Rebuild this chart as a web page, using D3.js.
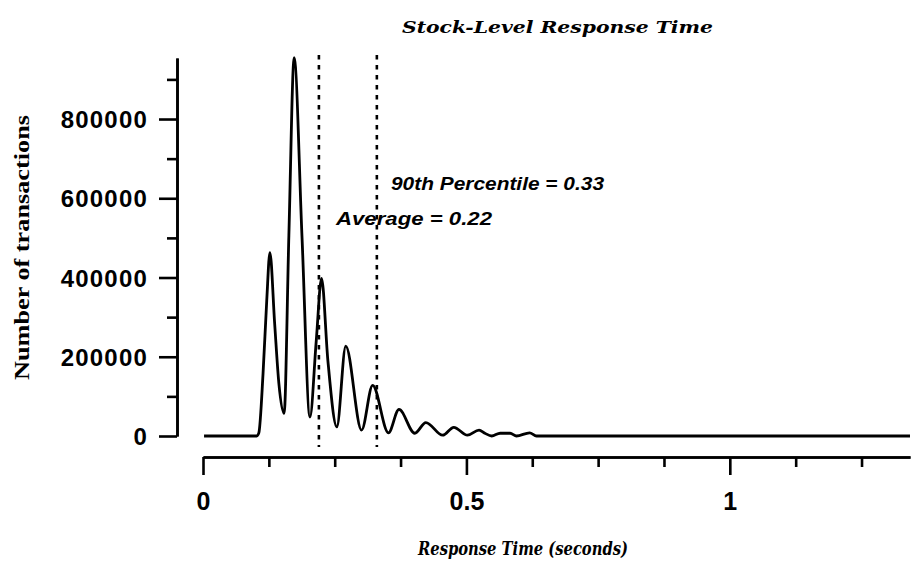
<!DOCTYPE html>
<html>
<head>
<meta charset="utf-8">
<script src="https://cdn.jsdelivr.net/npm/d3@7.9.0/dist/d3.min.js"></script>
<style>
  body { margin: 0; background: #fff; }
  svg { display: block; }
</style>
</head>
<body>
<svg id="chart" width="921" height="565"></svg>
<script>
// response time histogram (seconds -> number of transactions)
const timeSec = [0.002, 0.102, 0.106, 0.114, 0.121, 0.127, 0.136, 0.144, 0.154,
  0.163, 0.173, 0.188, 0.203, 0.215, 0.225, 0.237, 0.254, 0.271, 0.301, 0.322,
  0.352, 0.372, 0.402, 0.423, 0.455, 0.476, 0.502, 0.524, 0.535, 0.548, 0.564,
  0.583, 0.595, 0.620, 0.633, 1.342];
const txCount = [0, 0, 8000, 158000, 342000, 463000, 284000, 133000, 57000,
  506000, 955000, 500000, 48000, 241000, 398000, 191000, 23000, 227000, 15000, 128000,
  8000, 67000, 7000, 34000, 2000, 22000, 2000, 15000, 7000, 0, 7000,
  7000, 0, 8000, 0, 0];

const yMajorTicks = [0, 200000, 400000, 600000, 800000];
const yMinorTicks = [100000, 300000, 500000, 700000, 900000];
const xMajorTicks = [0, 0.5, 1];
const xMinorTicks = [0.125, 0.25, 0.375, 0.625, 0.75, 0.875, 1.125, 1.25];

const avgTime = 0.22;
const p90Time = 0.33;

const svg = d3.select('#chart');

const x = d3.scaleLinear().domain([0, 1.342]).range([203, 910]);
const y = d3.scaleLinear().domain([0, 954000]).range([436, 58]);

// y axis
const yAxisG = svg.append('g').attr('transform', 'translate(177,0)');
yAxisG.append('g')
  .call(d3.axisLeft(y).tickValues(yMinorTicks).tickSize(10).tickFormat('').tickSizeOuter(0));
yAxisG.append('g')
  .call(d3.axisLeft(y).tickValues(yMajorTicks).tickSize(18).tickPadding(12).tickSizeOuter(0)
    .tickFormat(d3.format('d')));

// x axis
const xAxisG = svg.append('g').attr('transform', 'translate(0,457)');
xAxisG.append('g')
  .call(d3.axisBottom(x).tickValues(xMinorTicks).tickSize(10).tickFormat('').tickSizeOuter(0));
xAxisG.append('g')
  .call(d3.axisBottom(x).tickValues(xMajorTicks).tickSize(18).tickSizeOuter(0)
    .tickFormat(d => d3.format('')(d)));

svg.selectAll('.domain, .tick line')
  .attr('stroke', '#000')
  .attr('stroke-width', 2.6);

yAxisG.selectAll('text')
  .attr('font-family', '"Liberation Sans", Arial, sans-serif')
  .attr('font-weight', 'bold')
  .attr('font-size', 24)
  .attr('letter-spacing', 1.2)
  .attr('dx', 1)
  .attr('dy', '0.36em')
  .attr('fill', '#000');

xAxisG.selectAll('text')
  .attr('font-family', '"Liberation Sans", Arial, sans-serif')
  .attr('font-weight', 'bold')
  .attr('font-size', 25)
  .attr('y', 53)
  .attr('dy', null)
  .attr('fill', '#000');

// average and 90th percentile markers
svg.selectAll('line.marker')
  .data([avgTime, p90Time])
  .join('line')
  .attr('class', 'marker')
  .attr('x1', d => x(d))
  .attr('x2', d => x(d))
  .attr('y1', 55)
  .attr('y2', 447)
  .attr('stroke', '#000')
  .attr('stroke-width', 2.6)
  .attr('stroke-dasharray', '4.5 5.5');

// the distribution curve
const line = d3.line()
  .x((d, i) => x(timeSec[i]))
  .y(d => y(d))
  .curve(d3.curveMonotoneX);

svg.append('path')
  .datum(txCount)
  .attr('d', line)
  .attr('fill', 'none')
  .attr('stroke', '#000')
  .attr('stroke-width', 2.8)
  .attr('stroke-linejoin', 'round');

// annotations
svg.append('text')
  .attr('x', 391)
  .attr('y', 190)
  .attr('font-family', '"Liberation Sans", Arial, sans-serif')
  .attr('font-weight', 'bold')
  .attr('font-style', 'italic')
  .attr('font-size', 19)
  .attr('textLength', 213)
  .attr('lengthAdjust', 'spacingAndGlyphs')
  .text(`90th Percentile = ${p90Time}`);

svg.append('text')
  .attr('x', 336)
  .attr('y', 225)
  .attr('font-family', '"Liberation Sans", Arial, sans-serif')
  .attr('font-weight', 'bold')
  .attr('font-style', 'italic')
  .attr('font-size', 19)
  .attr('textLength', 156)
  .attr('lengthAdjust', 'spacingAndGlyphs')
  .text(`Average = ${avgTime}`);

// titles
svg.append('text')
  .attr('x', 402)
  .attr('y', 33)
  .attr('font-family', '"DejaVu Serif", serif')
  .attr('font-weight', 'bold')
  .attr('font-style', 'italic')
  .attr('font-size', 17)
  .attr('textLength', 311)
  .attr('lengthAdjust', 'spacingAndGlyphs')
  .text('Stock-Level Response Time');

svg.append('text')
  .attr('x', 418)
  .attr('y', 555)
  .attr('font-family', '"DejaVu Serif", serif')
  .attr('font-weight', 'bold')
  .attr('font-style', 'italic')
  .attr('font-size', 19)
  .attr('textLength', 210)
  .attr('lengthAdjust', 'spacingAndGlyphs')
  .text('Response Time (seconds)');

svg.append('text')
  .attr('transform', 'translate(29,380) rotate(-90)')
  .attr('font-family', '"Liberation Serif", "Times New Roman", serif')
  .attr('font-weight', 'bold')
  .attr('font-size', 20)
  .attr('textLength', 265)
  .attr('lengthAdjust', 'spacingAndGlyphs')
  .text('Number of transactions');
</script>
</body>
</html>
